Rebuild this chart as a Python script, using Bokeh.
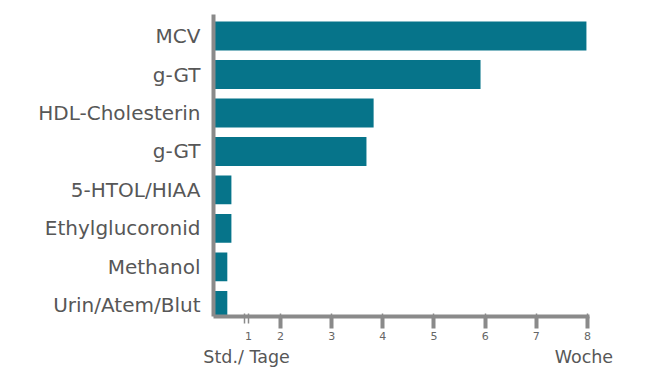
from bokeh.plotting import figure
from bokeh.models import FixedTicker, Range1d, ColumnDataSource, LinearAxis
from bokeh.embed import file_html
from bokeh.resources import INLINE

# ---- data ----
categories = ["MCV", "g-GT", "HDL-Cholesterin", "g-GT", "5-HTOL/HIAA",
              "Ethylglucoronid", "Methanol", "Urin/Atem/Blut"]
values = [7.98, 5.91, 3.82, 3.68, 1.04, 1.04, 0.96, 0.96]
x_ticks = [2, 3, 4, 5, 6, 7, 8]
x_tick_labels = ["2", "3", "4", "5", "6", "7", "8"]
break_marks = [1.296, 1.372]          # axis-break "||" positions
break_labels = ["", "1"]              # "1" sits just after the break
unit_labels = ["Std./ Tage", "Woche"]
unit_label_pos = [1.336, 7.93]

X_START, X_END = 0.69, 8.04
Y_START, Y_END = -0.29, 7.56

W, H = 646, 369
LEFT, RIGHT, TOP, BOTTOM = 213, 57, 14, 51

BAR = "#06748A"
AXIS = "#8a8a8a"
TXT = "#575757"
FONT = "DejaVu Sans"

n = len(categories)
ypos = [n - 1 - i for i in range(n)]
src = ColumnDataSource(dict(y=ypos, right=values, left=[X_START] * n))

p = figure(width=W, height=H, output_backend="svg", toolbar_location=None,
           x_range=Range1d(X_START, X_END), y_range=Range1d(Y_START, Y_END),
           min_border_left=LEFT, min_border_right=RIGHT, min_border_top=TOP,
           min_border_bottom=BOTTOM, x_axis_location=None)
p.outline_line_color = None
p.grid.visible = False
p.background_fill_color = "white"
p.border_fill_color = "white"

p.hbar(y="y", left="left", right="right", height=0.75, source=src,
       color=BAR, line_color=None)

# y axis
ya = p.yaxis[0]
ya.ticker = FixedTicker(ticks=ypos)
ya.major_label_overrides = {y: c for y, c in zip(ypos, categories)}
ya.axis_line_color = AXIS
ya.axis_line_width = 4
ya.major_tick_line_color = None
ya.minor_tick_line_color = None
ya.major_tick_out = 0
ya.major_tick_in = 0
ya.major_label_standoff = 13
ya.major_label_text_font = FONT
ya.major_label_text_font_size = "20px"
ya.major_label_text_color = TXT

# x axis: thin major ticks give the break marks (and carry all labels),
# thick minor ticks give the visible 2..8 tick marks
all_ticks = break_marks + x_ticks
all_labels = break_labels + x_tick_labels
xa = LinearAxis(ticker=FixedTicker(ticks=all_ticks, minor_ticks=x_ticks))
xa.major_label_overrides = {t: l for t, l in zip(all_ticks, all_labels)}
xa.axis_line_color = AXIS
xa.axis_line_width = 4
xa.major_tick_line_color = AXIS
xa.major_tick_line_width = 1.5
xa.major_tick_in = 3
xa.major_tick_out = 7
xa.minor_tick_line_color = AXIS
xa.minor_tick_line_width = 4
xa.minor_tick_out = 12
xa.minor_tick_in = 0
xa.major_label_standoff = 3
xa.major_label_text_font = FONT
xa.major_label_text_font_size = "11px"
xa.major_label_text_color = "#666666"
p.add_layout(xa, "below")

# unit labels as a second, line-less axis below
ua = LinearAxis(ticker=FixedTicker(ticks=unit_label_pos))
ua.major_label_overrides = {t: l for t, l in zip(unit_label_pos, unit_labels)}
ua.axis_line_color = None
ua.major_tick_line_color = None
ua.minor_tick_line_color = None
ua.major_tick_out = 0
ua.major_tick_in = 0
ua.major_label_standoff = 4
ua.major_label_text_font = FONT
ua.major_label_text_font_size = "17.5px"
ua.major_label_text_color = TXT
p.add_layout(ua, "below")

open("out.html", "w").write(file_html(p, INLINE))
